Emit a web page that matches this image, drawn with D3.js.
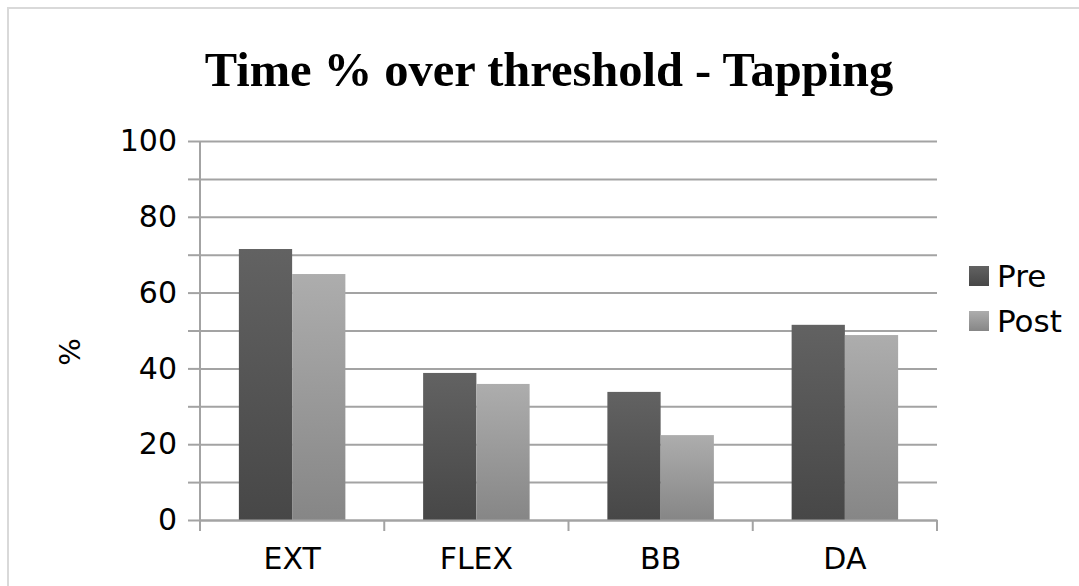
<!DOCTYPE html>
<html>
<head>
<meta charset="utf-8">
<script src="https://cdn.jsdelivr.net/npm/d3@7"></script>
<style>
  html, body { margin: 0; padding: 0; background: #fff; }
  svg { display: block; }
</style>
</head>
<body>
<svg id="chart" width="1079" height="586"></svg>
<script>
// Chart data
const categories = ["EXT", "FLEX", "BB", "DA"];
const seriesNames = ["Pre", "Post"];
const preValues = [71.5, 38.8, 33.8, 51.5];
const postValues = [64.9, 35.9, 22.4, 48.8];
const yTickLabels = [0, 20, 40, 60, 80, 100];
const gridValues = [0, 10, 20, 30, 40, 50, 60, 70, 80, 90, 100];

const rows = categories.map((c, i) => ({ cat: c, Pre: preValues[i], Post: postValues[i] }));

const svg = d3.select("#chart");
const W = 1079, H = 586;
const plot = { left: 200, right: 937, top: 141, bottom: 520 };

// Outer frame
svg.append("rect")
  .attr("x", 8).attr("y", 8)
  .attr("width", W + 20).attr("height", H + 20)
  .attr("fill", "#fff")
  .attr("stroke", "#d9d9d9").attr("stroke-width", 2);

// Gradients for the two series
const defs = svg.append("defs");
const gradStops = {
  Pre: ["#626262", "#474747"],
  Post: ["#adadad", "#868686"]
};
seriesNames.forEach(s => {
  const g = defs.append("linearGradient")
    .attr("id", "grad-" + s)
    .attr("x1", 0).attr("y1", 0).attr("x2", 0).attr("y2", 1);
  g.append("stop").attr("offset", "0%").attr("stop-color", gradStops[s][0]);
  g.append("stop").attr("offset", "100%").attr("stop-color", gradStops[s][1]);
});

// Scales
const y = d3.scaleLinear().domain([0, 100]).range([plot.bottom, plot.top]);
const x = d3.scaleBand().domain(categories).range([plot.left, plot.right]).padding(0);
const xs = d3.scaleBand().domain(seriesNames).range([0, x.bandwidth()])
  .paddingInner(0).paddingOuter(0.73);

const axisColor = "#a3a3a3";
const labelFont = "DejaVu Sans";

// Gridlines (every 10) with tick marks on the left
const grid = d3.axisLeft(y)
  .tickValues(gridValues)
  .tickSize(-(plot.right - plot.left))
  .tickFormat("");
const gridG = svg.append("g")
  .attr("transform", `translate(${plot.left},0)`)
  .call(grid);
gridG.select(".domain").remove();
gridG.selectAll(".tick line")
  .attr("stroke", axisColor).attr("stroke-width", 2)
  .attr("x2", plot.right - plot.left);
gridG.selectAll(".tick").append("line")
  .attr("x1", -12).attr("x2", 0)
  .attr("stroke", axisColor).attr("stroke-width", 2);

// Y axis labels
const yAxis = d3.axisLeft(y).tickValues(yTickLabels).tickSize(0).tickPadding(23);
const yG = svg.append("g")
  .attr("transform", `translate(${plot.left},0)`)
  .call(yAxis);
yG.select(".domain").remove();
yG.selectAll("text")
  .attr("font-family", labelFont)
  .attr("font-size", 30)
  .attr("fill", "#000");

// Y axis line
svg.append("line")
  .attr("x1", plot.left).attr("x2", plot.left)
  .attr("y1", plot.top).attr("y2", plot.bottom)
  .attr("stroke", axisColor).attr("stroke-width", 2);

// Bars
const groups = svg.append("g").selectAll("g")
  .data(rows).join("g")
  .attr("transform", d => `translate(${x(d.cat)},0)`);
groups.selectAll("rect")
  .data(d => seriesNames.map(s => ({ s, v: d[s] })))
  .join("rect")
  .attr("x", d => xs(d.s))
  .attr("width", xs.bandwidth())
  .attr("y", d => y(d.v))
  .attr("height", d => y(0) - y(d.v))
  .attr("fill", d => `url(#grad-${d.s})`);

// X axis
const xAxis = d3.axisBottom(x).tickSize(0).tickPadding(28);
const xG = svg.append("g")
  .attr("transform", `translate(0,${plot.bottom})`)
  .call(xAxis);
xG.select(".domain")
  .attr("stroke", axisColor).attr("stroke-width", 2);
xG.selectAll("text")
  .attr("font-family", labelFont)
  .attr("font-size", 30)
  .attr("fill", "#000");
// Category boundary ticks
const boundaries = categories.map(c => x(c)).concat([x.range()[1]]);
svg.append("g").selectAll("line")
  .data(boundaries).join("line")
  .attr("x1", d => d).attr("x2", d => d)
  .attr("y1", plot.bottom).attr("y2", plot.bottom + 11)
  .attr("stroke", axisColor).attr("stroke-width", 2);

// Y axis title
svg.append("text")
  .attr("transform", "translate(80,352) rotate(-90)")
  .attr("text-anchor", "middle")
  .attr("font-family", labelFont)
  .attr("font-size", 29)
  .attr("fill", "#000")
  .text("%");

// Chart title
svg.append("text")
  .attr("x", 549).attr("y", 86)
  .attr("text-anchor", "middle")
  .attr("font-family", "Liberation Serif")
  .attr("font-weight", "bold")
  .attr("font-size", 48.5)
  .attr("fill", "#000")
  .text("Time % over threshold - Tapping");

// Legend
const legend = svg.append("g").selectAll("g")
  .data(seriesNames).join("g")
  .attr("transform", (d, i) => `translate(969,${266 + i * 45})`);
legend.append("rect")
  .attr("width", 20).attr("height", 20)
  .attr("fill", d => `url(#grad-${d})`);
legend.append("text")
  .attr("x", 28).attr("y", 10)
  .attr("dy", "0.36em")
  .attr("font-family", labelFont)
  .attr("font-size", 31)
  .attr("fill", "#000")
  .text(d => d);
</script>
</body>
</html>
